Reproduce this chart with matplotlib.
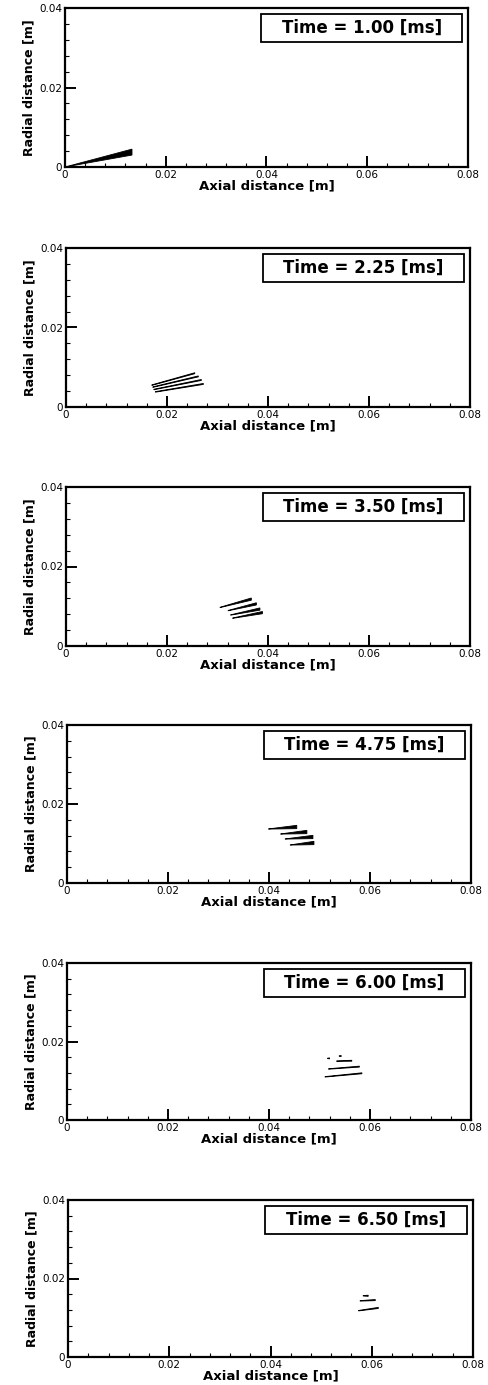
import matplotlib.pyplot as plt
from matplotlib.patches import Rectangle
from matplotlib.ticker import MultipleLocator

plt.rcParams['font.family'] = ['DejaVu Sans']

times = ['1.00', '2.25', '3.50', '4.75', '6.00', '6.50']

xticks = [0.0, 0.02, 0.04, 0.06, 0.08]
xtick_labels = ['0', '0.02', '0.04', '0.06', '0.08']
yticks = [0.0, 0.02, 0.04]
ytick_labels = ['0', '0.02', '0.04']

# streaks per panel: start/end x and y [m]
p1_x0 = [0.0]
p1_x1 = [0.0133]
p1_y0 = [0.0]
p1_y1 = [0.00375]

p2_x0 = [0.0170, 0.0172, 0.0174, 0.0177]
p2_x1 = [0.0255, 0.0262, 0.0268, 0.0272]
p2_y0 = [0.0055, 0.0050, 0.0044, 0.0038]
p2_y1 = [0.0085, 0.0077, 0.0068, 0.0058]

p3_x0 = [0.0305, 0.0321, 0.0326, 0.0330]
p3_x1 = [0.0367, 0.0377, 0.0384, 0.0389]
p3_y0 = [0.0097, 0.0089, 0.0078, 0.0070]
p3_y1 = [0.0118, 0.0106, 0.0093, 0.0084]

p4_x0 = [0.0399, 0.0423, 0.0432, 0.0442]
p4_x1 = [0.0455, 0.0475, 0.0487, 0.0489]
p4_y0 = [0.01367, 0.01240, 0.01114, 0.00962]
p4_y1 = [0.01418, 0.01291, 0.01165, 0.01013]

p5_x0 = [0.0516, 0.0539, 0.0534, 0.0518, 0.0511]
p5_x1 = [0.0520, 0.0543, 0.0564, 0.0579, 0.0584]
p5_y0 = [0.0157, 0.0163, 0.0150, 0.0130, 0.0110]
p5_y1 = [0.0157, 0.0163, 0.0151, 0.0136, 0.0119]

p6_x0 = [0.0583, 0.0577, 0.0574]
p6_x1 = [0.0593, 0.0607, 0.0613]
p6_y0 = [0.0156, 0.0143, 0.0118]
p6_y1 = [0.0156, 0.0145, 0.0125]

streaks = [
    (p1_x0, p1_x1, p1_y0, p1_y1),
    (p2_x0, p2_x1, p2_y0, p2_y1),
    (p3_x0, p3_x1, p3_y0, p3_y1),
    (p4_x0, p4_x1, p4_y0, p4_y1),
    (p5_x0, p5_x1, p5_y0, p5_y1),
    (p6_x0, p6_x1, p6_y0, p6_y1),
]

# half thickness of streaks at start / end (style)
half_w0 = [0.0, 0.00007, 0.00004, 0.00002, 0.00006, 0.00006]
half_w1 = [0.00075, 0.00012, 0.00028, 0.00042, 0.00012, 0.00014]

# axes boxes in pixels: left, right, top, bottom
W, H = 489, 1385
boxes = [
    (65, 468, 8, 167),
    (66, 470, 248, 407),
    (66, 470, 487, 646),
    (67, 471, 725, 883),
    (67, 471, 963, 1120),
    (68, 473, 1200, 1357),
]

fig = plt.figure(figsize=(W / 100, H / 100), dpi=100)

for i, (l, r, t, b) in enumerate(boxes):
    ax = fig.add_axes([l / W, 1 - b / H, (r - l) / W, (b - t) / H])
    h0, h1 = half_w0[i], half_w1[i]
    for x0, x1, y0, y1 in zip(*streaks[i]):
        ax.fill([x0, x1, x1, x0], [y0 - h0, y1 - h1, y1 + h1, y0 + h0],
                color='black', lw=0.6)

    ax.set_xlim(0, 0.08)
    ax.set_ylim(0, 0.04)
    ax.set_xticks(xticks)
    ax.set_xticklabels(xtick_labels)
    ax.set_yticks(yticks)
    ax.set_yticklabels(ytick_labels)
    ax.xaxis.set_minor_locator(MultipleLocator(0.004))
    ax.yaxis.set_minor_locator(MultipleLocator(0.004))
    ax.tick_params(which='major', direction='in', length=8, width=1.4,
                   labelsize=7.5, pad=2)
    ax.tick_params(which='minor', direction='in', length=3, width=0.8)
    for s in ax.spines.values():
        s.set_linewidth(1.6)

    ax.set_xlabel('Axial distance [m]', fontsize=9.5, fontweight='bold', labelpad=0)
    ax.set_ylabel('Radial distance [m]', fontsize=9, fontweight='bold', labelpad=3)

    ax.add_patch(Rectangle((0.487, 0.785), 0.498, 0.178, transform=ax.transAxes,
                           fill=False, lw=1.3, ec='black'))
    ax.text(0.736, 0.874, f'Time = {times[i]} [ms]', transform=ax.transAxes,
            ha='center', va='center', fontsize=12, fontweight='bold')

fig.savefig('out.png', dpi=100)
